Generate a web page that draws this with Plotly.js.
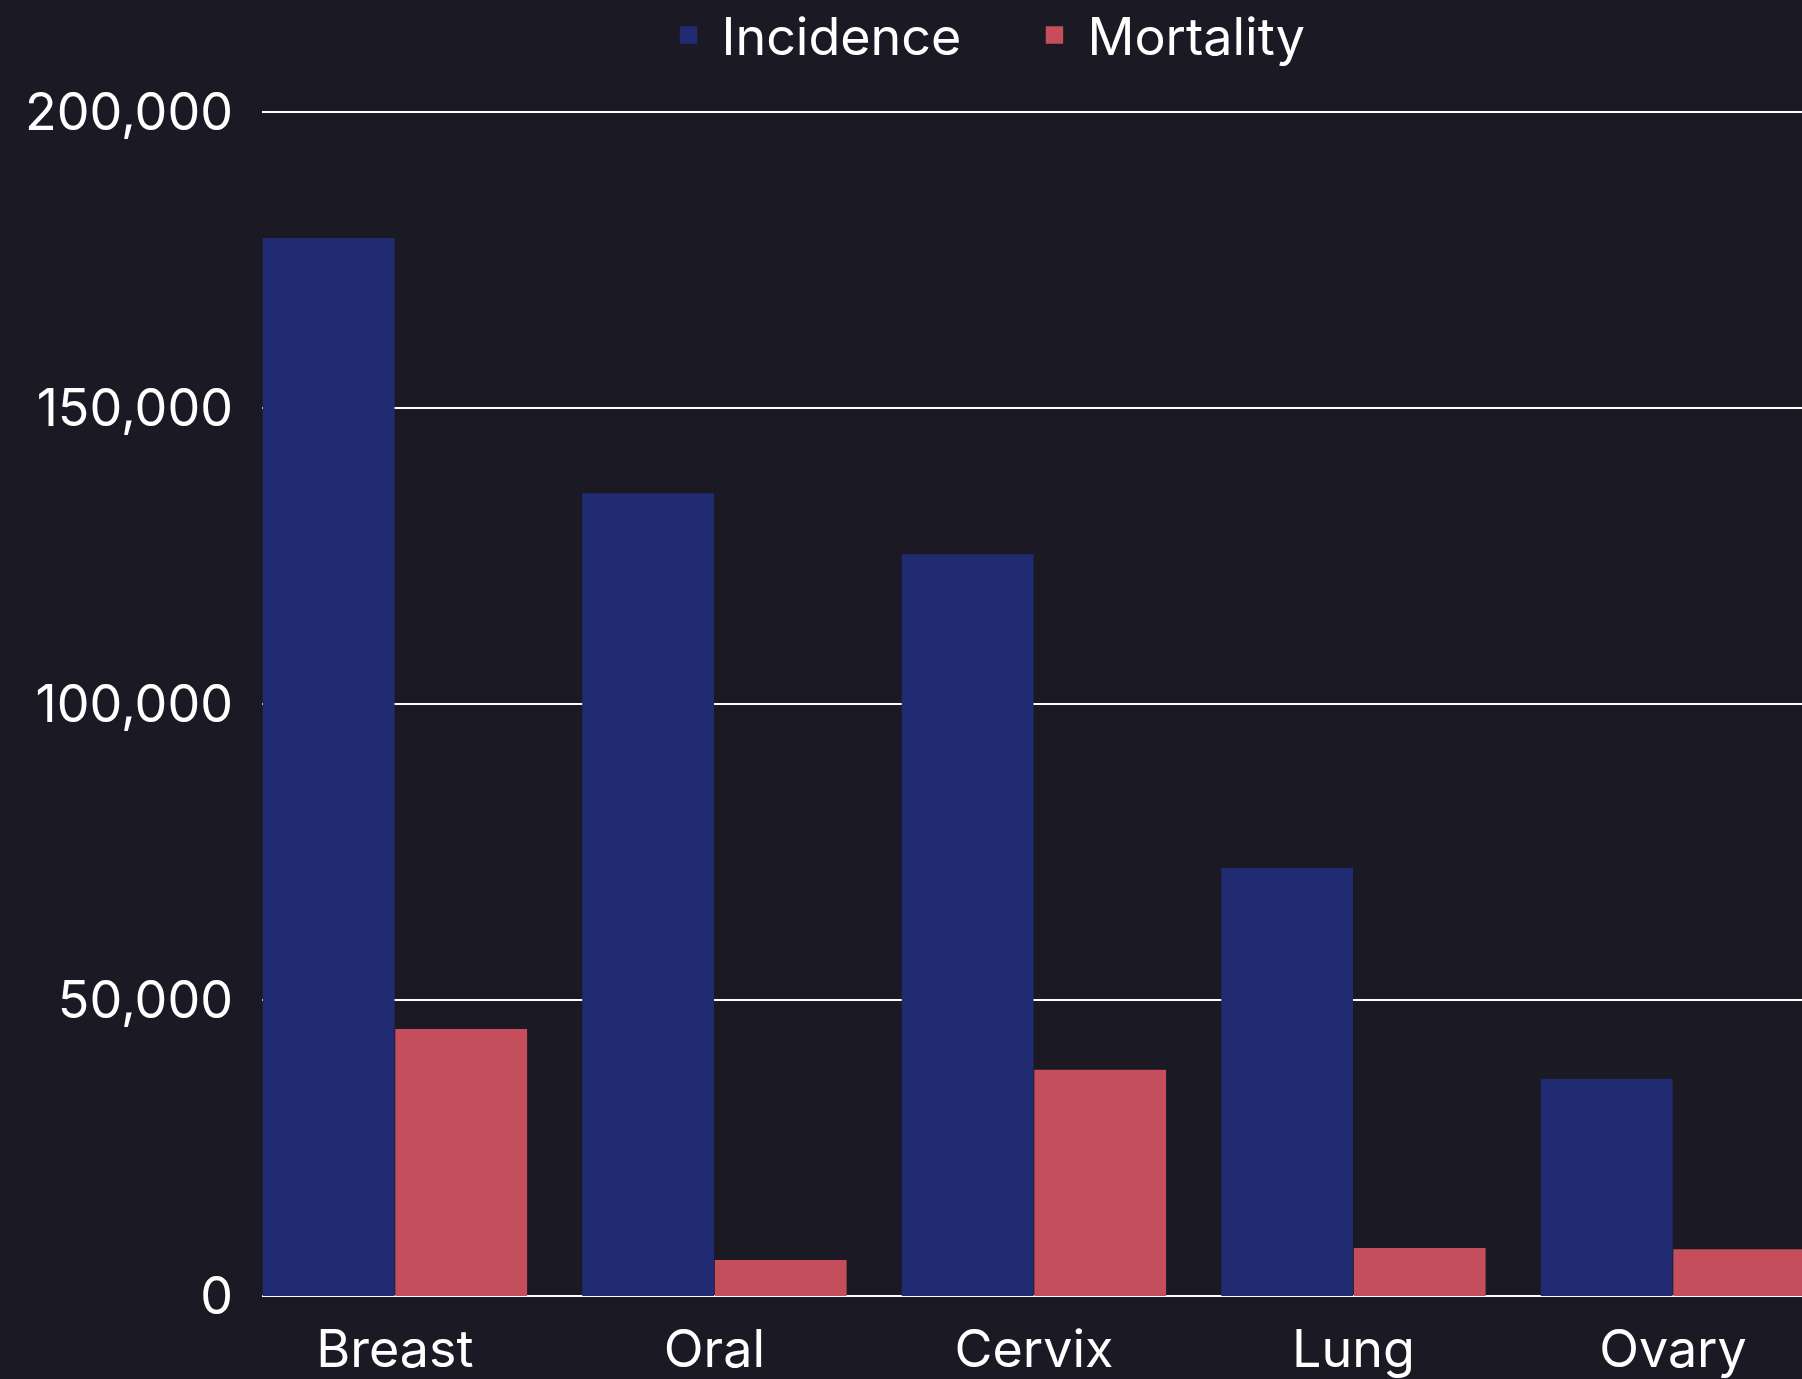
<!DOCTYPE html>
<html>
<head>
<meta charset="utf-8">
<script src="https://cdn.plot.ly/plotly-3.0.1.min.js"></script>
<style>
  html, body { margin: 0; padding: 0; background: #1b1924; }
  #chart { width: 1802px; height: 1379px; }
</style>
</head>
<body>
<div id="chart"></div>
<script>
const categories = ["Breast", "Oral", "Cervix", "Lung", "Ovary"];
const incidence = [178700, 135600, 125300, 72300, 36700];
const mortality = [45100, 6100, 38200, 8100, 7900];
const yTickValues = [0, 50000, 100000, 150000, 200000];

const bg = "#1b1924";
const fontFamily = "Inter, 'Noto Sans', sans-serif";

const traces = [
  {
    type: "bar",
    name: "Incidence",
    x: categories,
    y: incidence,
    marker: { color: "#212b72" }
  },
  {
    type: "bar",
    name: "Mortality",
    x: categories,
    y: mortality,
    marker: { color: "#c44e5b" }
  }
];

const layout = {
  width: 1802,
  height: 1379,
  paper_bgcolor: bg,
  plot_bgcolor: bg,
  font: { family: fontFamily, color: "#ffffff", size: 52 },
  margin: { l: 262, r: 0, t: 106, b: 83, pad: 0 },
  barmode: "group",
  bargap: 0.17,
  bargroupgap: 0.006,
  showlegend: true,
  legend: {
    orientation: "h",
    x: 0.2555,
    xanchor: "left",
    y: 1.0885,
    yanchor: "top",
    itemwidth: 56,
    entrywidth: 295,
    font: { family: fontFamily, size: 52, color: "#ffffff" },
    bgcolor: "rgba(0,0,0,0)"
  },
  xaxis: {
    type: "category",
    range: [-0.416, 4.404],
    showgrid: false,
    showline: false,
    zeroline: false,
    ticks: "",
    ticklabelstandoff: 18,
    tickfont: { family: fontFamily, size: 52, color: "#ffffff" }
  },
  yaxis: {
    range: [0, 201000],
    tickvals: yTickValues,
    tickformat: ",d",
    showgrid: true,
    gridcolor: "#ffffff",
    gridwidth: 2,
    zeroline: true,
    zerolinecolor: "#ffffff",
    zerolinewidth: 2,
    showline: false,
    ticks: "",
    ticklabelstandoff: 28,
    tickfont: { family: fontFamily, size: 52, color: "#ffffff" }
  }
};

Plotly.newPlot("chart", traces, layout, { displayModeBar: false, staticPlot: true }).then(function (gd) {
  gd.querySelectorAll(".legendpoints path").forEach(function (p) {
    const t = p.getAttribute("transform") || "";
    p.setAttribute("transform", t + " scale(1.45)");
  });
  const lg = gd.querySelector("g.legend");
  if (lg) {
    const t = lg.getAttribute("transform") || "";
    lg.setAttribute("transform", t + " translate(0,-6)");
  }
});
</script>
</body>
</html>
